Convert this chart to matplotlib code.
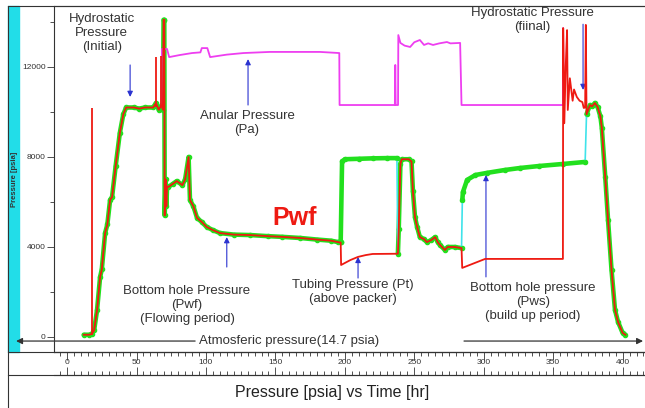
import numpy as np
import matplotlib
matplotlib.use('Agg')
import matplotlib.pyplot as plt
import matplotlib.ticker as tck
from matplotlib.lines import Line2D
from matplotlib.patches import Rectangle

plt.rcParams['font.family'] = ['Liberation Sans', 'DejaVu Sans']

# first flowing period (both gauges read the same)
flow1_t = [12, 16, 18, 19.5, 21.6, 23.8, 25, 27.4, 29, 31, 32.4, 35, 38, 40.5, 42.5,
           48, 52, 56, 62, 64, 66, 68, 69, 69.5, 70, 70.3, 71, 71.5, 72, 73, 76, 79,
           83, 85, 87.5, 88.5, 91, 93.6, 97, 100.5, 105, 110, 120, 132, 145, 155,
           168, 180, 190, 195, 197]
flow1_p = [100, 100, 150, 300, 1200, 2670, 3000, 4620, 5000, 6100, 6220, 7600, 9070,
           9900, 10200, 10200, 10150, 10200, 10200, 10400, 10100, 10300, 10100, 14100,
           14100, 5400, 7000, 5800, 6700, 6670, 6800, 6930, 6750, 7000, 8000, 6090,
           5800, 5290, 5110, 4890, 4750, 4620, 4550, 4530, 4480, 4450, 4400, 4330,
           4280, 4220, 4200]

# red-only spikes
spike_t = [18, 64, 67.5]
spike_lo = [100, 10200, 10200]
spike_hi = [10180, 12440, 12500]

# first shut-in: bottom hole gauge builds up, tubing gauge drops
bu1_t = [197, 198, 200, 210, 220, 230, 237.5]
bu1_p = [4200, 7800, 7900, 7920, 7940, 7950, 7950]
pt1_t = [197.3, 204, 209.5, 215, 220, 237.6]
pt1_p = [3200, 3420, 3560, 3640, 3690, 3700]

# second flowing period
flow2_t = [238.2, 238.8, 240, 241, 246, 248, 249, 250.5, 252, 254, 257, 259, 262, 265,
           267, 268.5, 272, 274, 279, 284]
flow2_p = [3700, 4800, 7700, 7900, 7900, 7800, 6500, 5330, 4900, 4440, 4350, 4220,
           4300, 4440, 4200, 4090, 3870, 4000, 4000, 3950]

# build up period
bu2_t = [284.6, 285, 288, 294, 302, 315, 326, 340, 357, 373]
bu2_p = [6100, 6440, 6980, 7200, 7290, 7420, 7510, 7600, 7690, 7780]
pt2_t = [284.5, 301, 320, 340, 357, 357.2, 358, 359, 360, 360.5, 362, 364, 365, 367,
         369, 371, 372, 373, 373.5]
pt2_p = [3070, 3470, 3470, 3470, 3470, 13730, 9500, 12000, 13640, 10090, 11500, 10500,
         11000, 10670, 10500, 10440, 10180, 10200, 13870]

# final run out of hole
final_t = [374, 376.5, 378, 380, 382, 384, 385, 387.5, 389.5, 392, 394.5, 396.7, 400, 402]
final_p = [9900, 10310, 10250, 10400, 10220, 9800, 9300, 7100, 5200, 2980, 1200, 670,
           180, 100]

# annular pressure
ann_t = [68, 68.3, 72, 73.5, 81, 90, 96, 97, 101, 103, 115, 127, 146, 182, 196, 196.2,
         236, 236.3, 236.6, 238.3, 238.5, 240, 243, 247, 250, 254, 257, 260, 263.5, 268,
         273.5, 276, 283, 284, 357, 357.1, 357.6]
ann_p = [10300, 12800, 12800, 12440, 12530, 12620, 12650, 12840, 12840, 12440, 12550,
         12620, 12670, 12670, 12620, 10310, 10310, 12090, 10310, 10310, 13420, 13070,
         12950, 12890, 13100, 13200, 12980, 13050, 12980, 13050, 13110, 13050, 13070,
         10310, 10310, 13730, 10300]

W, H = 645, 408
GREEN = '#22e01e'
RED = '#ee1a12'
MAGENTA = '#ee3ef0'
CYAN = '#3fe3ea'
BLUE = '#2a32d0'
TXT = '#333333'

fig = plt.figure(figsize=(W / 100, H / 100), dpi=100)
ax = fig.add_axes([54 / W, 1 - 352 / H, 1 - 54 / W, 346 / H])
ax.set_xlim(-9.4, 416.1)
ax.set_ylim(-667, 14711)

# bottom hole gauge: thick green with dots, cyan where the points are sparse
for t, p in [(flow1_t + bu1_t, flow1_p + bu1_p), (flow2_t, flow2_p),
             (bu2_t, bu2_p), (final_t, final_p)]:
    ax.plot(t, p, color=GREEN, lw=3.3, solid_capstyle='round',
            marker='o', ms=3, mec=GREEN, zorder=2)
for a, b in [((bu1_t, bu1_p), (flow2_t, flow2_p)),
             ((flow2_t, flow2_p), (bu2_t, bu2_p)),
             ((bu2_t, bu2_p), (final_t, final_p))]:
    ax.plot([a[0][-1], b[0][0]], [a[1][-1], b[1][0]], color=CYAN, lw=1.2,
            marker='o', ms=2.5, mfc=GREEN, mec=GREEN, zorder=2)

ax.plot(ann_t, ann_p, color=MAGENTA, lw=1.3, zorder=3)

red_t = np.concatenate([flow1_t, pt1_t, flow2_t, pt2_t, final_t])
red_p = np.concatenate([flow1_p, pt1_p, flow2_p, pt2_p, final_p])
ax.plot(red_t, red_p, color=RED, lw=1.3, zorder=4)
ax.vlines(spike_t, spike_lo, spike_hi, color=RED, lw=1.3, zorder=4)

# labels with blue arrows
arrow = dict(arrowstyle='-|>', color=BLUE, lw=0.8, mutation_scale=8,
             shrinkA=0, shrinkB=0)
txt = dict(ha='center', va='center', fontsize=9.5, color=TXT, linespacing=1.22)
ax.text(25, 13510, 'Hydrostatic\nPressure\n(Initial)', **txt)
ax.annotate('', xy=(45.4, 10670), xytext=(45.4, 12090), arrowprops=arrow)
ax.text(129.6, 9490, 'Anular Pressure\n(Pa)', **txt)
ax.annotate('', xy=(130.3, 12350), xytext=(130.3, 10310), arrowprops=arrow)
ax.text(164, 5290, 'Pwf', ha='center', va='center', fontsize=18,
        fontweight='bold', color=RED)
ax.text(86.4, 1420, 'Bottom hole Pressure\n(Pwf)\n(Flowing period)', **txt)
ax.annotate('', xy=(115, 4440), xytext=(115, 3110), arrowprops=arrow)
ax.text(206, 2000, 'Tubing Pressure (Pt)\n(above packer)', **txt)
ax.annotate('', xy=(209.5, 3560), xytext=(209.5, 2620), arrowprops=arrow)
ax.text(335.5, 1560, 'Bottom hole pressure\n(Pws)\n(build up period)', **txt)
ax.annotate('', xy=(301.6, 7200), xytext=(301.6, 2670), arrowprops=arrow)
ax.text(334.8, 14070, 'Hydrostatic Pressure\n(fiinal)', **txt)
ax.annotate('', xy=(371.5, 10980), xytext=(371.5, 13900), arrowprops=arrow)

# atmospheric pressure line
black = dict(arrowstyle='-|>', color=TXT, lw=0.9, mutation_scale=9,
             shrinkA=0, shrinkB=0)
ax.text(159.8, -180, 'Atmosferic pressure(14.7 psia)', ha='center', va='center',
        fontsize=9.5, color=TXT)
ax.annotate('', xy=(-36.7, -180), xytext=(92.2, -180), arrowprops=black,
            annotation_clip=False)
ax.annotate('', xy=(414.7, -180), xytext=(285.8, -180), arrowprops=black,
            annotation_clip=False)

# axes styling
ax.spines['right'].set_visible(False)
for side in ['top', 'left', 'bottom']:
    ax.spines[side].set_color(TXT)
    ax.spines[side].set_linewidth(0.8)
ax.set_xticks([])
ax.yaxis.set_major_locator(tck.FixedLocator([0, 4000, 8000, 12000]))
ax.yaxis.set_minor_locator(tck.MultipleLocator(2000))
ax.tick_params(axis='y', which='major', length=5, width=0.6, labelsize=6,
               colors=TXT, pad=1)
ax.tick_params(axis='y', which='minor', length=3, width=0.6, colors=TXT)

# time axis strip
ax2 = fig.add_axes([54 / W, 1 - 375 / H, 1 - 54 / W, 23 / H])
ax2.set_xlim(ax.get_xlim())
ax2.set_yticks([])
ax2.patch.set_alpha(0)
for side in ['left', 'right']:
    ax2.spines[side].set_visible(False)
for side in ['top', 'bottom']:
    ax2.spines[side].set_color(TXT)
    ax2.spines[side].set_linewidth(0.8)
ax2.xaxis.set_major_locator(tck.MultipleLocator(50))
ax2.xaxis.set_minor_locator(tck.MultipleLocator(5))
ax2.tick_params(axis='x', which='both', direction='in', top=True, bottom=True,
                colors=TXT, width=0.6)
ax2.tick_params(axis='x', which='major', length=6, labelsize=6, pad=-11.5)
ax2.tick_params(axis='x', which='minor', length=3)

# outer frame and side band
fig.add_artist(Rectangle((8 / W, 1 - 352 / H), 11 / W, 346 / H,
                         transform=fig.transFigure, color='#22dde8', zorder=0))
for xs, ys in [([8 / W, 8 / W], [0, 1 - 6 / H]),
               ([8 / W, 1], [1 - 6 / H, 1 - 6 / H]),
               ([8 / W, 1], [1 - 352 / H, 1 - 352 / H]),
               ([8 / W, 1], [1 - 375 / H, 1 - 375 / H])]:
    fig.add_artist(Line2D(xs, ys, transform=fig.transFigure, color=TXT, lw=0.8))
fig.text(14 / W, 1 - 179 / H, 'Pressure [psia]', rotation=90, fontsize=5.5,
         fontweight='bold', ha='center', va='center', color=TXT)
fig.text(332 / W, 1 - 392 / H, 'Pressure [psia] vs Time [hr]', fontsize=11.5,
         ha='center', va='center', color='#222222')

fig.savefig('out.png', dpi=100)
